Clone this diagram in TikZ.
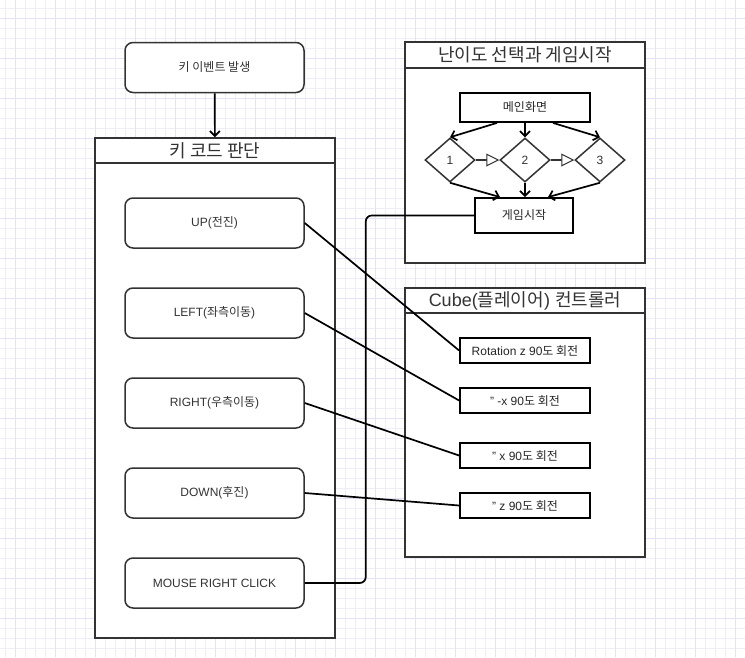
\documentclass[tikz,border=0pt]{standalone}
\usepackage{fontspec}
\setmainfont{Liberation Sans}
\newfontfamily\kr{Noto Sans CJK KR}
\usetikzlibrary{arrows.meta,shapes.geometric}
\definecolor{gridminor}{RGB}{238,238,251}
\definecolor{gridmajor}{RGB}{226,226,248}
\definecolor{edgecol}{RGB}{51,51,51}
\newcommand\hg[1]{{\kr #1}}

\begin{document}
\begin{tikzpicture}[x=1pt,y=-1pt,
      keybox/.style={draw=edgecol,line width=1.5pt,rounded corners=8pt,minimum width=179pt,minimum height=50pt,inner sep=0pt,text=edgecol,font=\fontsize{12}{14}\selectfont},
      cmdbox/.style={draw=black,line width=1.8pt,minimum width=130pt,minimum height=25pt,inner sep=0pt,text=black!85,font=\fontsize{12}{14}\selectfont},
      headbox/.style={draw=edgecol,line width=1.5pt,minimum width=240pt,minimum height=25pt,inner sep=0pt,text=edgecol,font=\fontsize{18}{20}\selectfont},
      choice/.style={diamond,draw=edgecol,line width=1.5pt,minimum width=50pt,minimum height=44pt,inner sep=0pt,text=edgecol,font=\fontsize{12}{14}\selectfont},
      link/.style={draw=black,line width=1.7pt},
      flow/.style={link,-{Straight Barb[length=5pt,width=10pt]}},
      hop/.style={draw=edgecol,line width=1.3pt,-{Triangle[length=13pt,width=13pt,fill=white,line width=1pt]}}
    ]
    \useasboundingbox (0,0) rectangle (745,657);
    \fill[white] (0,0) rectangle (745,657);

    % grid
    \foreach \x in {5,15,...,745}{
      \draw[gridminor, line width=1pt] (\x,0) -- (\x,657);
    }
    \foreach \y in {8,18,...,657}{
      \draw[gridminor, line width=1pt] (0,\y) -- (745,\y);
    }
    \foreach \x in {15,55,...,745}{
      \draw[gridmajor, line width=1pt] (\x,0) -- (\x,657);
    }
    \foreach \y in {18,58,...,657}{
      \draw[gridmajor, line width=1pt] (0,\y) -- (745,\y);
    }

    % key code container
    \node[keybox,fill=white] (event) at (214.5,67.5) {\hg{키 이벤트 발생}};
    \filldraw[fill=white,draw=edgecol,line width=1.5pt] (95,163) rectangle (335,638);
    \node[headbox,fill=white] (keyhead) at (215,150.5) {\hg{키 코드 판단}};
    \draw[flow] (event) -- (keyhead);

    \node[keybox,fill=white] (up) at (214.5,223) {UP(\hg{전진})};
    \node[keybox,fill=white] (left) at (214.5,313) {LEFT(\hg{좌측이동})};
    \node[keybox,fill=white] (right) at (214.5,403) {RIGHT(\hg{우측이동})};
    \node[keybox,fill=white] (down) at (214.5,493) {DOWN(\hg{후진})};
    \node[keybox,fill=white] (mouse) at (214.5,583) {MOUSE RIGHT CLICK};

    % level select container
    \filldraw[fill=white,draw=edgecol,line width=1.5pt] (405,68) rectangle (645,263);
    \node[headbox,fill=white,minimum height=26pt] (levelhead) at (525,55) {\hg{난이도 선택과 게임시작}};
    \node[cmdbox,fill=white,minimum height=29pt] (menu) at (525,107.5) {\hg{메인화면}};
    \node[choice,fill=white] (lv1) at (450,160) {1};
    \node[choice,fill=white] (lv2) at (525,160) {2};
    \node[choice,fill=white] (lv3) at (600,160) {3};
    \node[cmdbox,fill=white,minimum width=98pt,minimum height=35pt] (start) at (524,215.5) {\hg{게임시작}};

    \draw[flow] ([xshift=-28pt]menu.south) -- (lv1.north);
    \draw[flow] (menu.south) -- (lv2.north);
    \draw[flow] ([xshift=28pt]menu.south) -- (lv3.north);
    \draw[hop] (lv1.east) -- (lv2.west);
    \draw[hop] (lv2.east) -- (lv3.west);
    \draw[flow] (lv1.south) -- ([xshift=-24pt]start.north);
    \draw[flow] (lv2.south) -- ([xshift=1pt]start.north);
    \draw[flow] (lv3.south) -- ([xshift=24pt]start.north);

    % cube controller container
    \filldraw[fill=white,draw=edgecol,line width=1.5pt] (405,313) rectangle (645,557);
    \node[headbox,fill=white] (cubehead) at (525,300.5) {Cube(\hg{플레이어}) \hg{컨트롤러}};
    \node[cmdbox,fill=white] (rotz) at (525,350.5) {Rotation z 90\hg{도 회전}};
    \node[cmdbox,fill=white] (rotnx) at (525,400.5) {" -x 90\hg{도 회전}};
    \node[cmdbox,fill=white] (rotx) at (525,455.5) {" x 90\hg{도 회전}};
    \node[cmdbox,fill=white] (rotzz) at (525,505.5) {" z 90\hg{도 회전}};

    \draw[link] (up.east) -- (rotz.west);
    \draw[link] (left.east) -- (rotnx.west);
    \draw[link] (right.east) -- (rotx.west);
    \draw[link] (down.east) -- (rotzz.west);
    \draw[link,rounded corners=6pt] (mouse.east) -- ++(61,0) |- (start.west);
  \end{tikzpicture}
\end{document}
